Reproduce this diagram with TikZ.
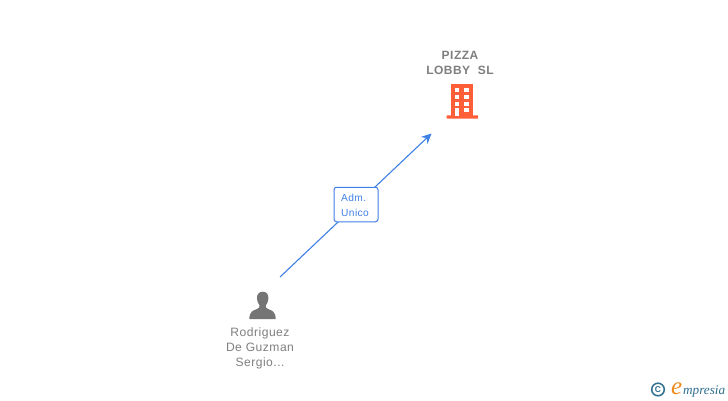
\documentclass[tikz,border=0pt]{standalone}
\usepackage{fontspec}
\setmainfont{Liberation Sans}
\newfontfamily\labelfont[LetterSpace=4]{Liberation Sans}
\newfontfamily\logofont{Liberation Serif}
\usetikzlibrary{arrows.meta}
\definecolor{txtgray}{HTML}{7F7F7F}
\definecolor{iconorange}{HTML}{FF5F38}
\definecolor{icongray}{HTML}{757575}
\definecolor{linkblue}{HTML}{3F80E6}
\definecolor{logoteal}{HTML}{2F6F8F}
\definecolor{logoorange}{HTML}{F08A1D}
\tikzset{
  x=1pt,y=-1pt,
  caption/.style={font=\labelfont\fontsize{12.1}{15}\selectfont,text=txtgray,align=center,inner sep=0pt},
  titlecap/.style={caption,font=\labelfont\bfseries\fontsize{12}{15}\selectfont},
  linkline/.style={draw=linkblue,line width=1.1pt,-{Stealth[length=10pt,width=9.5pt]}},
  linkbox/.style={draw=linkblue,line width=1pt,fill=white,rounded corners=2.5pt,minimum width=44pt,minimum height=34.5pt,inner sep=0pt},
  linktext/.style={font=\labelfont\fontsize{10.2}{15}\selectfont,text=linkblue,align=left,inner sep=0pt,anchor=west},
}
\begin{document}
\begin{tikzpicture}
\useasboundingbox (0,0) rectangle (728,400);
\fill[white] (0,0) rectangle (728,400);
% building
\fill[iconorange] (451,84.3) rectangle (473.3,116);
\fill[iconorange,rounded corners=0.5pt] (446.5,115.3) rectangle (478.2,118.5);
\foreach \yy in {88.3,95,101.7}{
  \fill[white] (455,\yy) rectangle ++(4.3,4);
  \fill[white] (464.3,\yy) rectangle ++(4.7,4);
}
\fill[white] (455,108.3) rectangle (459.3,116);
\fill[white] (464.3,108.3) rectangle (469,112.3);
% person
\fill[icongray] (262.8,291.7) .. controls (266.6,291.7) and (268.6,294.5) .. (268.4,298)
  .. controls (268.2,301.5) and (267,304) .. (265.8,305.5)
  .. controls (265.6,307.5) and (266,308) .. (268,309)
  .. controls (272,310.5) and (275.5,311.5) .. (275.7,319)
  -- (249.3,319)
  .. controls (249.5,311.5) and (253,310.5) .. (257,309)
  .. controls (259,308) and (259.6,307.5) .. (259.6,305.5)
  .. controls (258.4,304) and (257.2,301.5) .. (257,298)
  .. controls (256.8,294.5) and (259,291.7) .. (262.8,291.7) -- cycle;
% labels
\node[titlecap] (company) at (460,62.5) {PIZZA\\LOBBY\ \ SL};
\node[caption] (personname) at (260,348.6) {Rodriguez\\De Guzman\\Sergio...};
% connector
\coordinate (from) at (280,277);
\coordinate (to) at (431.5,133.5);
\draw[linkline] (from) -- (to);
\node[linkbox] (role) at (356,204.5) {};
\node[linktext] (roletext) at (341,205.7) {Adm.\\Unico};
% logo
\draw[logoteal,line width=1.5pt] (658,389.5) circle (6.3);
\node[inner sep=0pt,text=logoteal,font=\bfseries\fontsize{8.5}{8.5}\selectfont] (copyc) at (658,389.5) {C};
\node[inner sep=0pt,anchor=base west,text=logoorange,font=\logofont\itshape\fontsize{25}{25}\selectfont] (loge) at (671,394) {e};
\node[inner sep=0pt,anchor=base west,text=logoteal,font=\logofont\itshape\fontsize{13.2}{13.2}\selectfont] (logrest) at (683,394.5) {mpresia};
\end{tikzpicture}
\end{document}
